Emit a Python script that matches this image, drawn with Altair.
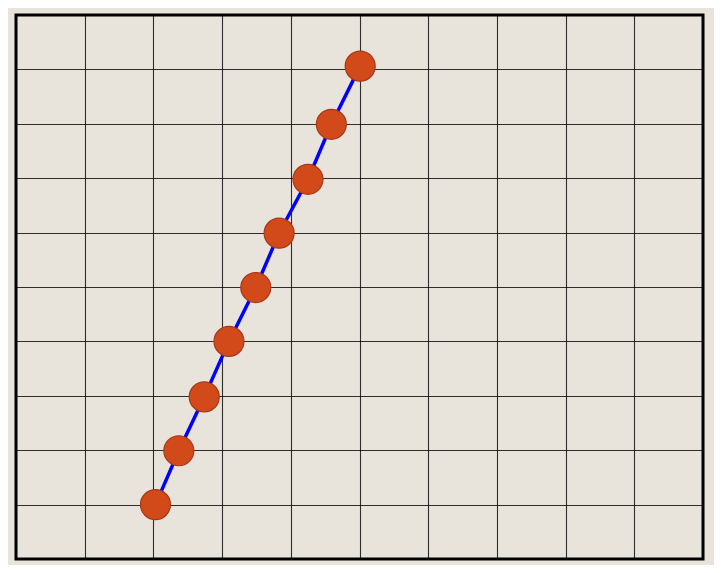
import altair as alt
import pandas as pd

x_vals = [2.03, 2.37, 2.74, 3.10, 3.49, 3.83, 4.25, 4.59, 5.01]
y_vals = [1.0, 1.99, 2.98, 4.0, 4.99, 5.99, 6.98, 7.99, 9.06]
grid_ticks = list(range(0, 11))

df = pd.DataFrame({"x": x_vals, "y": y_vals})

xs = alt.Scale(domain=[0, 10], nice=False, zero=False)
ys = alt.Scale(domain=[0, 10], nice=False, zero=False)
ax = alt.Axis(values=grid_ticks, labels=False, ticks=False, domain=False, title=None,
              grid=True, gridColor="#000000", gridOpacity=0.8, gridWidth=1.1)

base = alt.Chart(df).encode(
    x=alt.X("x:Q", scale=xs, axis=ax),
    y=alt.Y("y:Q", scale=ys, axis=ax),
)

line = base.mark_line(color="#0000ff", strokeWidth=3.5)
pts = base.mark_circle(size=900, color="#d24a19", stroke="#a8381a", strokeWidth=1.2, opacity=1)

chart = (line + pts).properties(
    width=687, height=544,
    background="#e8e4dc",
    padding={"left": 8, "top": 7, "right": 11, "bottom": 6},
).configure_view(stroke="#000000", strokeWidth=3, fill="#e8e4dc")

chart.save("out.html", embed_options={"renderer": "svg", "actions": False})
